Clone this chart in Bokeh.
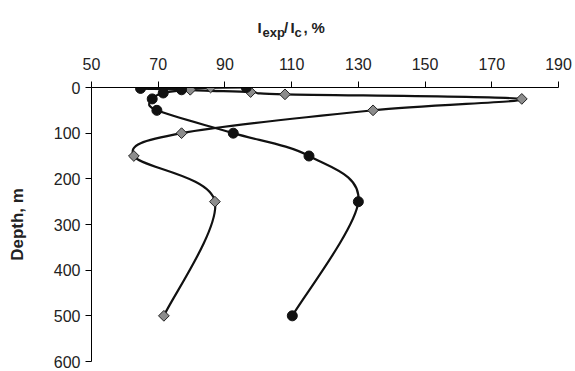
import numpy as np
from bokeh.plotting import figure
from bokeh.layouts import column
from bokeh.models import Range1d, FixedTicker, Div
from bokeh.embed import file_html
from bokeh.resources import INLINE

# ---- data ----
x_ticks = [50, 70, 90, 110, 130, 150, 170, 190]
y_ticks = [0, 100, 200, 300, 400, 500, 600]

diamond_depth = [0, 5, 10, 15, 25, 50, 100, 150, 250, 500]
diamond_val = [85.7, 79.6, 97.7, 108.0, 179.0, 134.4, 77.0, 62.7, 87.0, 71.7]

circle_depth = [0, 2, 5, 12, 25, 50, 100, 150, 250, 500]
circle_val = [96.4, 64.7, 77.0, 71.5, 68.2, 69.6, 92.5, 115.2, 130.0, 110.2]

title_parts = ["I", "exp", "/", "I", "c", ",", "%"]

FONT = "Liberation Sans"

W = 575
HEAD = 40
H = 371 - HEAD
FL, FR, FT, FB = 91, 558, 87 - HEAD, 361 - HEAD

# ---- header with the x-axis title (subscripts) as HTML text ----
tx = [257.5, 262.5, 284.0, 290.5, 294.5, 303.5, 311.5]
is_sub = [False, True, False, False, True, False, False]
spans = []
for t, x, sub in zip(title_parts, tx, is_sub):
    fs = 13 if sub else 15
    base = 36.5 if sub else 32.5
    top = base - 0.847 * fs
    spans.append(
        f'<span style="position:absolute;left:{x}px;top:{top:.1f}px;'
        f'font-size:{fs}px;line-height:1;white-space:nowrap">{t}</span>')
html = (f'<div style="position:relative;width:{W}px;height:{HEAD}px;'
        f"font-family:'{FONT}';font-weight:bold;color:#222222\">"
        + "".join(spans) + "</div>")
head = Div(text=html, width=W, height=HEAD, margin=0)

# ---- main plot ----
p = figure(width=W, height=H, output_backend="svg", toolbar_location=None,
           x_range=Range1d(50, 190), y_range=Range1d(600, 0),
           x_axis_location="above", margin=0,
           min_border_left=FL, min_border_right=W - FR,
           min_border_top=FT, min_border_bottom=H - FB)
p.frame_width = FR - FL
p.frame_height = FB - FT
p.outline_line_color = None
p.grid.visible = False
p.background_fill_color = "white"
p.border_fill_color = "white"

for ax in (p.xaxis[0], p.yaxis[0]):
    ax.major_tick_out = 6
    ax.major_tick_in = 0
    ax.minor_tick_line_color = None
    ax.axis_line_color = "black"
    ax.major_tick_line_color = "black"
    ax.major_label_text_font = FONT
    ax.major_label_text_font_size = "16px"
    ax.major_label_text_color = "#222222"

p.xaxis.ticker = FixedTicker(ticks=x_ticks)
p.yaxis.ticker = FixedTicker(ticks=y_ticks)
p.xaxis.major_label_standoff = 12
p.yaxis.major_label_standoff = 5
p.yaxis.axis_label = "Depth, m"
p.yaxis.axis_label_text_font = FONT
p.yaxis.axis_label_text_font_size = "17px"
p.yaxis.axis_label_text_font_style = "bold"
p.yaxis.axis_label_text_color = "#222222"
p.yaxis.axis_label_standoff = 24


def smooth(xs, ys, t=1.0 / 6.0):
    xs = np.asarray(xs, float)
    ys = np.asarray(ys, float)
    n = len(xs)
    out = {k: [] for k in ("x0", "y0", "x1", "y1", "cx0", "cy0", "cx1", "cy1")}
    for i in range(n - 1):
        a = max(i - 1, 0)
        d = min(i + 2, n - 1)
        out["x0"].append(xs[i]); out["y0"].append(ys[i])
        out["x1"].append(xs[i + 1]); out["y1"].append(ys[i + 1])
        out["cx0"].append(xs[i] + (xs[i + 1] - xs[a]) * t)
        out["cy0"].append(ys[i] + (ys[i + 1] - ys[a]) * t)
        out["cx1"].append(xs[i + 1] - (xs[d] - xs[i]) * t)
        out["cy1"].append(ys[i + 1] - (ys[d] - ys[i]) * t)
    return out


for vals, deps in ((diamond_val, diamond_depth), (circle_val, circle_depth)):
    s = smooth(vals, deps)
    p.bezier(x0=s["x0"], y0=s["y0"], x1=s["x1"], y1=s["y1"],
             cx0=s["cx0"], cy0=s["cy0"], cx1=s["cx1"], cy1=s["cy1"],
             line_color="#111111", line_width=2.2)

p.scatter(diamond_val, diamond_depth, marker="square", angle=np.pi / 4, size=7.6,
          fill_color="#8c8c8c", line_color="#222222", line_width=1)
p.scatter(circle_val, circle_depth, marker="circle", size=10,
          fill_color="#111111", line_color="#111111")

layout = column(head, p, spacing=0, margin=0)
open("out.html", "w").write(file_html(layout, INLINE))
